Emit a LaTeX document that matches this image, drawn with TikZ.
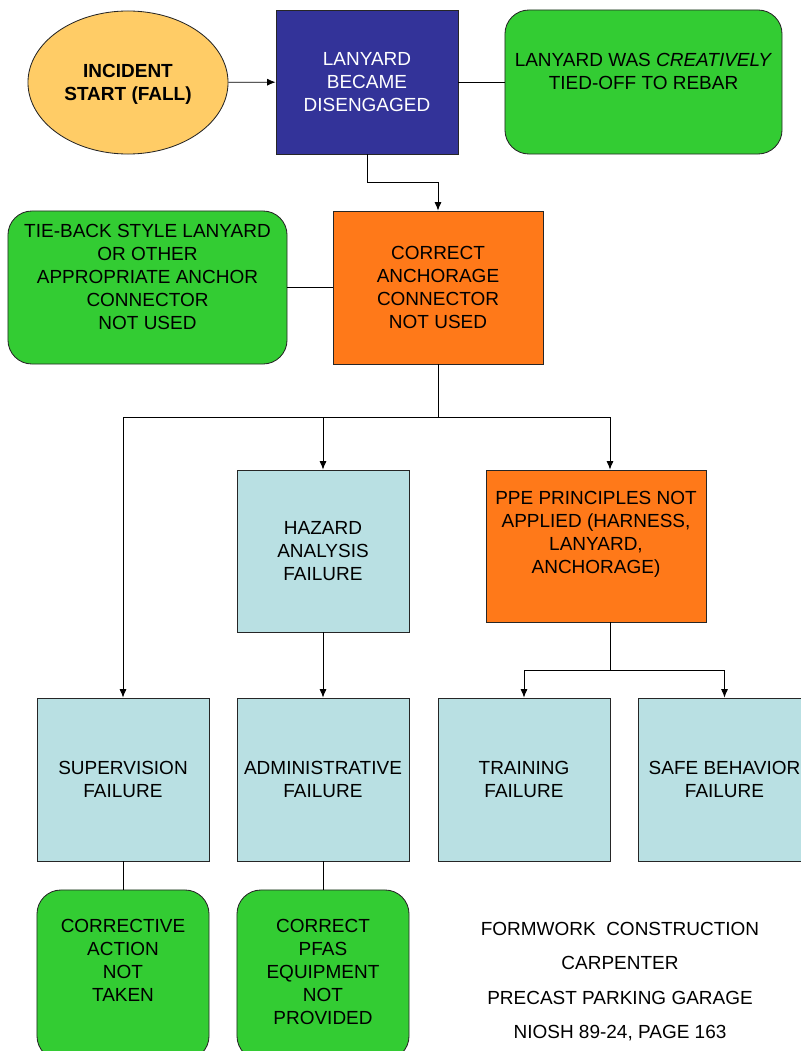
\documentclass[tikz,border=0pt]{standalone}
\usepackage{fontspec}
\setmainfont{Liberation Sans}
\usetikzlibrary{arrows.meta,positioning,calc,shapes.geometric}

\definecolor{startfill}{RGB}{255,204,102}
\definecolor{navyfill}{RGB}{51,51,153}
\definecolor{leaffill}{RGB}{51,204,51}
\definecolor{causefill}{RGB}{255,121,25}
\definecolor{failfill}{RGB}{185,224,227}

\tikzset{
  txt/.style={align=center,inner sep=0pt,font=\fontsize{13.5}{16.4}\selectfont},
  box/.style={rectangle,draw=black!85,line width=0.6pt,txt},
  navybox/.style={box,fill=navyfill,text=white},
  causebox/.style={box,fill=causefill},
  failbox/.style={box,fill=failfill,minimum width=4.3cm,minimum height=4.075cm},
  leafbox/.style={box,fill=leaffill,rounded corners=0.6cm},
  arr/.style={-{Latex[length=6pt,width=5pt]},line width=0.6pt},
  lnk/.style={line width=0.6pt}
}

\begin{document}
\begin{tikzpicture}[x=0.025cm,y=-0.025cm]
\useasboundingbox (0,0) rectangle (801,1051);

% top row
\node[ellipse,draw=black!85,line width=0.6pt,fill=startfill,minimum width=5cm,minimum height=3.575cm,inner sep=0pt,name=start] at (128,82.5) {};
\node[txt,font=\fontsize{13.5}{16.4}\selectfont\bfseries] at (128,84) {INCIDENT\\START (FALL)};
\node[navybox,minimum width=4.55cm,minimum height=3.6cm,name=lanyard] at (367,82) {LANYARD\\BECAME\\DISENGAGED};
\node[leafbox,minimum width=6.925cm,minimum height=3.6cm,name=creative] at (643.5,82) {};
\node[txt] at (643.5,71) {LANYARD WAS \textit{CREATIVELY}\\TIED-OFF TO REBAR};

% second row
\node[causebox,minimum width=5.25cm,minimum height=3.825cm,name=anchorage] at (438,287.5) {CORRECT\\ANCHORAGE\\CONNECTOR\\NOT USED};
\node[leafbox,minimum width=6.975cm,minimum height=3.825cm,name=tieback] at (147.5,287.5) {};
\node[txt] at (147.5,277) {TIE-BACK STYLE LANYARD\\OR OTHER\\APPROPRIATE ANCHOR\\CONNECTOR\\NOT USED};

% third row
\node[failbox,minimum height=4.05cm,name=hazard] at (323,551) {HAZARD\\ANALYSIS\\FAILURE};
\node[causebox,minimum width=5.5cm,minimum height=3.8cm,name=ppe] at (596,546) {};
\node[txt] at (596,534.5) {PPE PRINCIPLES NOT\\APPLIED (HARNESS,\\LANYARD,\\ANCHORAGE)};

% failures
\node[failbox,name=superv] at (123,779.5) {SUPERVISION\\FAILURE};
\node[failbox,name=admin] at (323,779.5) {ADMINISTRATIVE\\FAILURE};
\node[failbox,name=training] at (524,779.5) {TRAINING\\FAILURE};
\node[failbox,name=behavior] at (724.5,779.5) {SAFE BEHAVIOR\\FAILURE};

% bottom leaves
\node[leafbox,minimum width=4.3cm,minimum height=4.25cm,name=corrective] at (123,975) {};
\node[txt] at (123,960.5) {CORRECTIVE\\ACTION\\NOT\\TAKEN};
\node[leafbox,minimum width=4.3cm,minimum height=4.25cm,name=pfas] at (323,975) {};
\node[txt] at (323,972) {CORRECT\\PFAS\\EQUIPMENT\\NOT\\PROVIDED};

% case note
\node[txt,font=\fontsize{13.5}{24.4}\selectfont,name=note] at (620,981.5) {FORMWORK~~CONSTRUCTION\\CARPENTER\\PRECAST PARKING GARAGE\\NIOSH 89-24, PAGE 163};

% connectors
\draw[arr] (start) -- (lanyard);
\draw[lnk] (lanyard) -- (creative);
\draw[arr] (lanyard.south) -- ++(0,28) -| (anchorage.north);
\draw[lnk] (tieback) -- (anchorage);
\draw[lnk] (anchorage.south) -- ++(0,53) coordinate (split);
\draw[arr] (split) -| (superv.north);
\draw[arr] (split) -| (hazard.north);
\draw[arr] (split) -| ($(ppe.north)+(14,0)$);
\draw[arr] (hazard) -- (admin);
\draw[lnk] ($(ppe.south)+(14,0)$) -- ++(0,48) coordinate (ppesplit);
\draw[arr] (ppesplit) -| (training.north);
\draw[arr] (ppesplit) -| (behavior.north);
\draw[lnk] (superv) -- (corrective);
\draw[lnk] (admin) -- (pfas);
\end{tikzpicture}
\end{document}
